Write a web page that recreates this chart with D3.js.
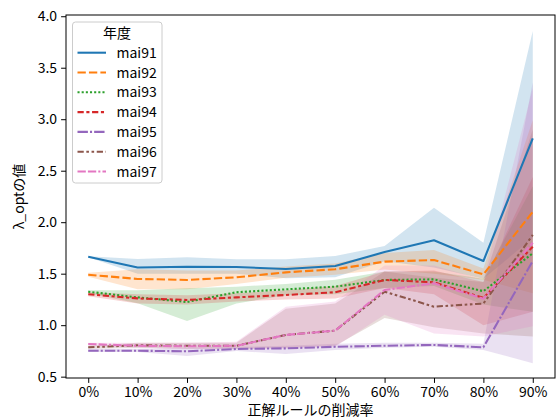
<!DOCTYPE html>
<html>
<head>
<meta charset="utf-8">
<script src="https://cdn.jsdelivr.net/npm/d3@7"></script>
<style>
  html, body { margin: 0; padding: 0; background: #fff; }
  svg text { font-family: "Noto Sans CJK JP", "DejaVu Sans", sans-serif; fill: #000; }
</style>
</head>
<body>
<svg id="chart" width="556" height="420"></svg>
<script>
// Reduction rate of correct rules (x categories)
const categories = ["0%", "10%", "20%", "30%", "40%", "50%", "60%", "70%", "80%", "90%"];
const seriesNames = ["mai91", "mai92", "mai93", "mai94", "mai95", "mai96", "mai97"];

// Mean λ_opt per year, with lower / upper confidence bounds
const mai91   = [1.665, 1.560, 1.568, 1.565, 1.545, 1.575, 1.710, 1.824, 1.623, 2.815];
const mai91Lo = [1.660, 1.500, 1.500, 1.500, 1.455, 1.465, 1.620, 1.560, 1.450, 1.850];
const mai91Hi = [1.670, 1.643, 1.659, 1.640, 1.640, 1.672, 1.770, 2.140, 1.800, 3.856];

const mai92   = [1.490, 1.449, 1.439, 1.465, 1.513, 1.543, 1.617, 1.633, 1.493, 2.100];
const mai92Lo = [1.470, 1.350, 1.350, 1.400, 1.460, 1.490, 1.540, 1.500, 1.440, 1.310];
const mai92Hi = [1.510, 1.543, 1.530, 1.530, 1.570, 1.600, 1.700, 1.730, 1.550, 2.990];

const mai93   = [1.325, 1.270, 1.225, 1.320, 1.348, 1.374, 1.439, 1.445, 1.330, 1.698];
const mai93Lo = [1.310, 1.213, 1.040, 1.210, 1.290, 1.300, 1.360, 1.380, 1.200, 1.130];
const mai93Hi = [1.340, 1.340, 1.358, 1.374, 1.400, 1.440, 1.520, 1.520, 1.450, 2.350];

const mai94   = [1.300, 1.260, 1.245, 1.270, 1.293, 1.320, 1.439, 1.416, 1.265, 1.762];
const mai94Lo = [1.280, 1.210, 1.200, 1.230, 1.250, 1.260, 1.360, 1.300, 1.000, 1.130];
const mai94Hi = [1.320, 1.300, 1.290, 1.310, 1.340, 1.380, 1.520, 1.530, 1.420, 2.440];

const mai95   = [0.752, 0.752, 0.746, 0.769, 0.775, 0.790, 0.800, 0.808, 0.785, 1.623];
const mai95Lo = [0.740, 0.740, 0.700, 0.750, 0.720, 0.760, 0.780, 0.790, 0.760, 0.630];
const mai95Hi = [0.770, 0.770, 0.780, 0.790, 0.800, 0.820, 0.830, 0.830, 0.820, 3.360];

const mai96   = [0.785, 0.805, 0.800, 0.800, 0.905, 0.947, 1.325, 1.180, 1.210, 1.876];
const mai96Lo = [0.770, 0.780, 0.770, 0.770, 0.780, 0.800, 1.070, 0.980, 0.920, 0.890];
const mai96Hi = [0.800, 0.830, 0.830, 0.830, 1.160, 1.210, 1.520, 1.460, 1.420, 2.900];

const mai97   = [0.817, 0.800, 0.795, 0.800, 0.905, 0.947, 1.342, 1.407, 1.257, 1.800];
const mai97Lo = [0.800, 0.780, 0.770, 0.770, 0.770, 0.790, 1.100, 0.920, 0.890, 0.990];
const mai97Hi = [0.830, 0.830, 0.830, 0.840, 1.180, 1.230, 1.580, 1.580, 1.440, 3.300];

const yTicks = [0.5, 1.0, 1.5, 2.0, 2.5, 3.0, 3.5, 4.0];

const colors = ["#1f77b4", "#ff7f0e", "#2ca02c", "#d62728", "#9467bd", "#8c564b", "#e377c2"];
// dash units (multiplied by line width below)
const dashUnits = [
  null,
  [4, 1.5],
  [1, 1],
  [3, 1.25, 1.5, 1.25],
  [5, 1, 1, 1],
  [3, 1.25, 1.25, 1.25, 1.25, 1.25],
  [4, 1, 4, 1, 1, 1]
];

const series = [
  { name: "mai91", mean: mai91, lo: mai91Lo, hi: mai91Hi },
  { name: "mai92", mean: mai92, lo: mai92Lo, hi: mai92Hi },
  { name: "mai93", mean: mai93, lo: mai93Lo, hi: mai93Hi },
  { name: "mai94", mean: mai94, lo: mai94Lo, hi: mai94Hi },
  { name: "mai95", mean: mai95, lo: mai95Lo, hi: mai95Hi },
  { name: "mai96", mean: mai96, lo: mai96Lo, hi: mai96Hi },
  { name: "mai97", mean: mai97, lo: mai97Lo, hi: mai97Hi }
];

const lw = 2.08;
const fs = 14;
const dashStr = i => dashUnits[i] ? dashUnits[i].map(d => (d * lw).toFixed(2)).join(",") : null;

const svg = d3.select("#chart");
const plot = { left: 66, right: 555, top: 15, bottom: 378 };

const x = d3.scalePoint().domain(categories).range([plot.left, plot.right]).padding(0.45);
const y = d3.scaleLinear().domain([0.487, 4.012]).range([plot.bottom, plot.top]);

// confidence bands first, lines on top
const area = d3.area()
  .x((d, i) => x(categories[i]))
  .y0(d => y(d[0]))
  .y1(d => y(d[1]));

const gBands = svg.append("g");
series.forEach((s, k) => {
  const pts = s.lo.map((v, i) => [v, s.hi[i]]);
  gBands.append("path")
    .attr("d", area(pts))
    .attr("fill", colors[k])
    .attr("fill-opacity", 0.2)
    .attr("stroke", "none");
});

const line = d3.line()
  .x((d, i) => x(categories[i]))
  .y(d => y(d));

const gLines = svg.append("g");
series.forEach((s, k) => {
  const p = gLines.append("path")
    .attr("d", line(s.mean))
    .attr("fill", "none")
    .attr("stroke", colors[k])
    .attr("stroke-width", lw)
    .attr("stroke-linejoin", "round");
  const ds = dashStr(k);
  if (ds) p.attr("stroke-dasharray", ds);
});

// axes
const xAxis = d3.axisBottom(x).tickSize(4.9).tickPadding(4);
const yAxis = d3.axisLeft(y).tickValues(yTicks).tickFormat(d3.format(".1f")).tickSize(4.9).tickPadding(4);

const gx = svg.append("g").attr("transform", `translate(0,${plot.bottom})`).call(xAxis);
const gy = svg.append("g").attr("transform", `translate(${plot.left},0)`).call(yAxis);
[gx, gy].forEach(g => {
  g.select(".domain").remove();
  g.selectAll(".tick line").attr("stroke", "#000").attr("stroke-width", 1);
  g.selectAll(".tick text").attr("font-size", fs).attr("fill", "#000")
    .style("font-family", "'Noto Sans CJK JP', sans-serif");
});

// frame
svg.append("rect")
  .attr("x", plot.left).attr("y", plot.top)
  .attr("width", plot.right - plot.left).attr("height", plot.bottom - plot.top)
  .attr("fill", "none").attr("stroke", "#000").attr("stroke-width", 1);

// axis labels
svg.append("text")
  .attr("x", (plot.left + plot.right) / 2).attr("y", 415)
  .attr("text-anchor", "middle").attr("font-size", fs)
  .text("正解ルールの削減率");
svg.append("text")
  .attr("transform", `translate(24,${(plot.top + plot.bottom) / 2}) rotate(-90)`)
  .attr("text-anchor", "middle").attr("font-size", fs)
  .text("λ_optの値");

// legend
const lg = svg.append("g");
lg.append("rect")
  .attr("x", 72.5).attr("y", 22).attr("width", 89.5).attr("height", 161)
  .attr("rx", 3).attr("fill", "#fff").attr("fill-opacity", 0.8)
  .attr("stroke", "#ccc").attr("stroke-width", 1);
lg.append("text")
  .attr("x", 117).attr("y", 38).attr("text-anchor", "middle").attr("font-size", fs)
  .text("年度");
seriesNames.forEach((name, k) => {
  const cy = 52.7 + k * 19.8;
  const l = lg.append("line")
    .attr("x1", 77.5).attr("x2", 106).attr("y1", cy).attr("y2", cy)
    .attr("stroke", colors[k]).attr("stroke-width", lw);
  const ds = dashStr(k);
  if (ds) l.attr("stroke-dasharray", ds);
  lg.append("text")
    .attr("x", 116.5).attr("y", cy + 5).attr("font-size", fs)
    .text(name);
});
</script>
</body>
</html>
